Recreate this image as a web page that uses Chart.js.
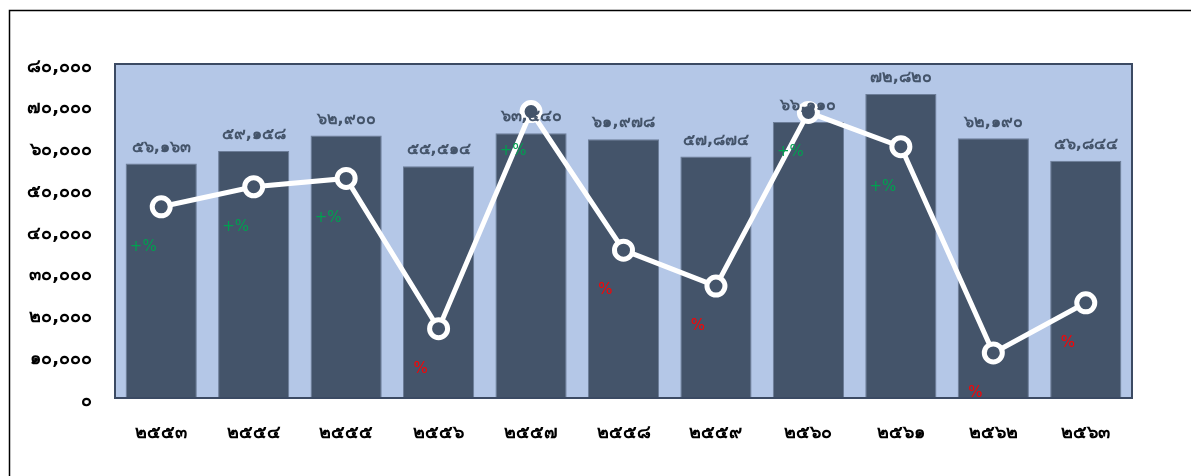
<!DOCTYPE html>
<html>
<head>
<meta charset="utf-8">
<script src="https://cdn.jsdelivr.net/npm/chart.js@4/dist/chart.umd.min.js"></script>
<style>
  html, body { margin: 0; padding: 0; background: #ffffff; }
  #wrap { position: relative; width: 1191px; height: 476px; }
</style>
</head>
<body>
<div id="wrap"><canvas id="c" width="1191" height="476"></canvas></div>
<script>
// ---- data ----
const years = ['๒๕๕๓','๒๕๕๔','๒๕๕๕','๒๕๕๖','๒๕๕๗','๒๕๕๘','๒๕๕๙','๒๕๖๐','๒๕๖๑','๒๕๖๒','๒๕๖๓'];
const amounts = [56163, 59158, 62900, 55514, 63440, 61978, 57874, 66110, 72820, 62190, 56844];
const amountLabels = ['๕๖,๑๖๓','๕๙,๑๕๘','๖๒,๙๐๐','๕๕,๕๑๔','๖๓,๔๔๐','๖๑,๙๗๘','๕๗,๘๗๔','๖๖,๑๑๐','๗๒,๘๒๐','๖๒,๑๙๐','๕๖,๘๔๔'];
const growthPct = [2.9, 5.3, 6.3, -11.7, 14.3, -2.3, -6.6, 14.2, 10.1, -14.6, -8.6];
const growthLabels = ['+%','+%','+%','%','+%','%','%','+%','+%','%','%'];
const yTickValues = [0, 10000, 20000, 30000, 40000, 50000, 60000, 70000, 80000];
const yTickLabels = ['๐','๑๐,๐๐๐','๒๐,๐๐๐','๓๐,๐๐๐','๔๐,๐๐๐','๕๐,๐๐๐','๖๐,๐๐๐','๗๐,๐๐๐','๘๐,๐๐๐'];

const FONT = 'Tahoma, "DejaVu Sans", "Noto Sans", sans-serif';

const frame = {
  id: 'frame',
  beforeDraw(chart) {
    const {ctx, chartArea: a} = chart;
    ctx.save();
    ctx.fillStyle = '#B4C7E7';
    ctx.fillRect(a.left, a.top, a.right - a.left, a.bottom - a.top);
    ctx.restore();
  },
  afterDatasetsDraw(chart) {
    const {ctx, chartArea: a} = chart;
    ctx.save();
    ctx.strokeStyle = '#3B4A63';
    ctx.lineWidth = 2;
    ctx.strokeRect(a.left, a.top, a.right - a.left, a.bottom - a.top);
    ctx.strokeStyle = '#000000';
    ctx.lineWidth = 1.5;
    ctx.beginPath();
    ctx.moveTo(9.5, 480);
    ctx.lineTo(9.5, 10.5);
    ctx.lineTo(1191, 10.5);
    ctx.stroke();
    ctx.restore();
  }
};

const labelsPlugin = {
  id: 'valueLabels',
  afterDatasetsDraw(chart) {
    const ctx = chart.ctx;
    ctx.save();
    const barMeta = chart.getDatasetMeta(0);
    ctx.font = 'bold 16px ' + FONT;
    ctx.fillStyle = '#44546A';
    ctx.textAlign = 'center';
    ctx.textBaseline = 'bottom';
    barMeta.data.forEach((el, i) => {
      ctx.fillText(amountLabels[i], el.x, el.y - 8);
    });
    ctx.restore();
  },
  afterDraw(chart) {
    const ctx = chart.ctx;
    ctx.save();
    const lineMeta = chart.getDatasetMeta(1);
    ctx.font = '15px ' + FONT;
    ctx.textAlign = 'center';
    ctx.textBaseline = 'middle';
    lineMeta.data.forEach((el, i) => {
      const pos = growthPct[i] >= 0;
      ctx.fillStyle = pos ? '#00A050' : '#FF0000';
      ctx.fillText(growthLabels[i], el.x - 18, el.y + 40);
    });
    ctx.restore();
  }
};

new Chart(document.getElementById('c'), {
  data: {
    labels: years,
    datasets: [
      {
        type: 'bar',
        data: amounts,
        backgroundColor: '#44546A',
        borderColor: '#6C7D98',
        borderWidth: 1,
        barPercentage: 0.77,
        categoryPercentage: 1.0,
        yAxisID: 'y',
        order: 2
      },
      {
        type: 'line',
        data: growthPct,
        borderColor: '#FFFFFF',
        borderWidth: 5,
        pointRadius: 9,
        pointBorderWidth: 5,
        pointBackgroundColor: '#44546A',
        pointBorderColor: '#FFFFFF',
        tension: 0,
        yAxisID: 'y2',
        order: 1
      }
    ]
  },
  options: {
    responsive: false,
    animation: false,
    layout: { padding: { top: 64, right: 59, left: 0, bottom: 0 } },
    plugins: { legend: { display: false }, tooltip: { enabled: false } },
    scales: {
      x: {
        grid: { display: false, drawTicks: false },
        border: { display: false },
        ticks: {
          color: '#000000',
          font: { family: FONT, size: 18, weight: 'bold' },
          padding: 25,
          maxRotation: 0
        },
        afterFit(scale) { scale.height = 78; }
      },
      y: {
        min: 0,
        max: 80000,
        afterBuildTicks(scale) { scale.ticks = yTickValues.map(v => ({ value: v })); },
        grid: { display: false, drawTicks: false },
        border: { display: false },
        ticks: {
          color: '#000000',
          font: { family: FONT, size: 18, weight: 'bold' },
          padding: 23,
          labelOffset: 3,
          callback(v) { const i = yTickValues.indexOf(v); return i >= 0 ? yTickLabels[i] : ''; }
        },
        afterFit(scale) { scale.width = 115; }
      },
      y2: {
        display: false,
        position: 'right',
        min: -20,
        max: 20
      }
    }
  },
  plugins: [frame, labelsPlugin]
});
</script>
</body>
</html>
